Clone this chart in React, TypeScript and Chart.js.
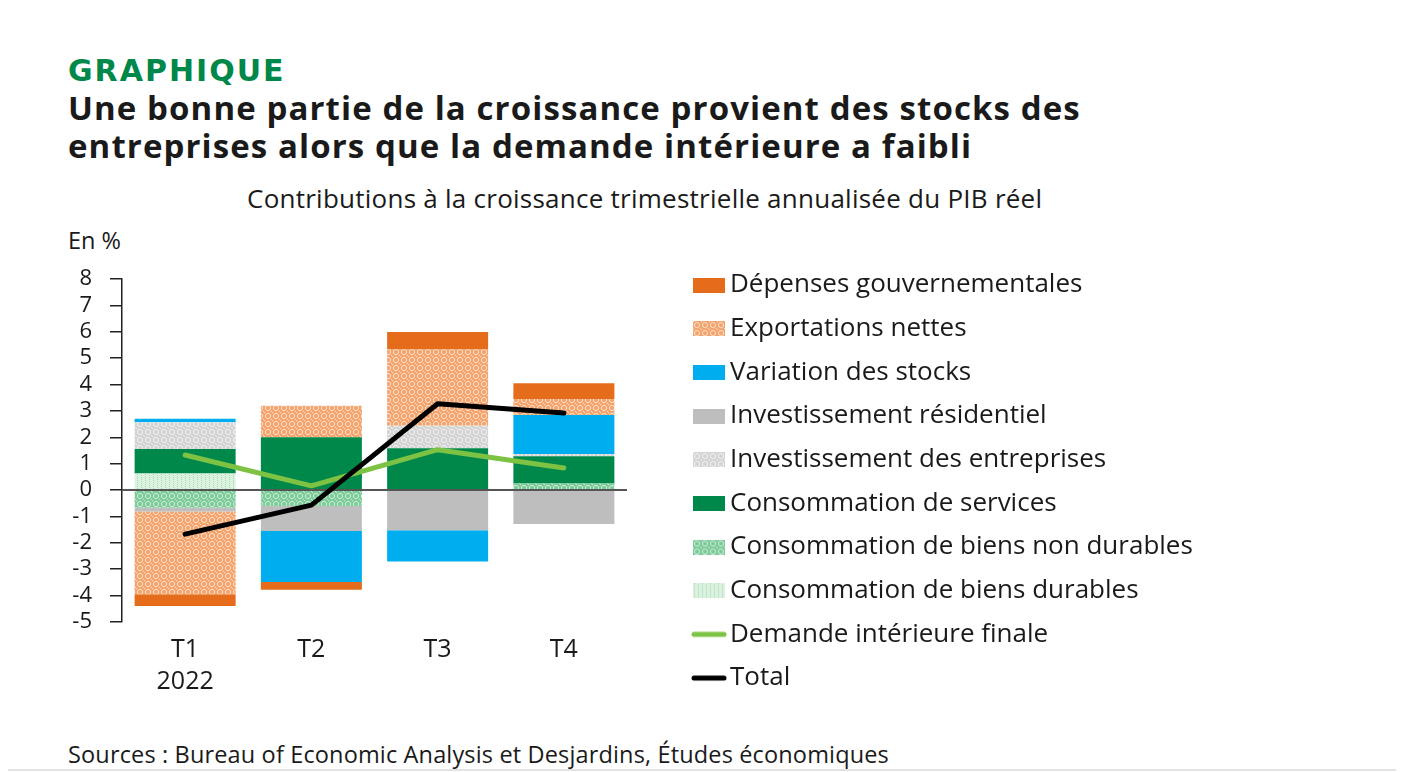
import React, { useEffect, useRef } from 'react';
import { Chart, registerables } from 'chart.js';

Chart.register(...registerables);

// ---------- data ----------
const categories: (string | string[])[] = [['T1', '2022'], 'T2', 'T3', 'T4'];
const durables = [0.63, 0, 0, 0];
const nonDurables = [-0.66, -0.6, 0, 0.25];
const services = [0.93, 2.0, 1.59, 1.03];
const businessInv = [1.01, 0, 0.85, 0.09];
const residential = [-0.15, -0.95, -1.52, -1.29];
const stocks = [0.13, -1.93, -1.19, 1.48];
const netExports = [-3.14, 1.2, 2.89, 0.6];
const government = [-0.44, -0.3, 0.66, 0.6];
const finalDemand = [1.33, 0.16, 1.53, 0.84];
const total = [-1.67, -0.57, 3.27, 2.92];
const yMin = -5;
const yMax = 8;

const legendOrder = [
  'Dépenses gouvernementales',
  'Exportations nettes',
  'Variation des stocks',
  'Investissement résidentiel',
  'Investissement des entreprises',
  'Consommation de services',
  'Consommation de biens non durables',
  'Consommation de biens durables',
  'Demande intérieure finale',
  'Total',
];

const FONT = "'Open Sans', sans-serif";
const TEXT = '#1a1a1a';

// ---------- patterns ----------
function makeTile(kind: string): HTMLCanvasElement {
  const c = document.createElement('canvas');
  c.width = 8;
  c.height = 8;
  const g = c.getContext('2d')!;
  if (kind === 'exports' || kind === 'business' || kind === 'nondur') {
    const base = kind === 'exports' ? '#F3A36C' : kind === 'business' ? '#D3D3D3' : '#7CCB99';
    const hi = kind === 'exports' ? '#FDE2CD' : kind === 'business' ? '#F4F4F4' : '#CDEDD8';
    g.fillStyle = base;
    g.fillRect(0, 0, 8, 8);
    g.strokeStyle = hi;
    g.lineWidth = 1;
    g.beginPath();
    g.arc(4, 4, 2.6, 0, Math.PI * 2);
    g.stroke();
    g.fillStyle = hi;
    g.fillRect(0, 0, 1, 1);
    g.fillRect(7, 7, 1, 1);
  } else {
    // durables: pale green with dotted vertical lines
    g.fillStyle = '#DCF2E1';
    g.fillRect(0, 0, 8, 8);
    g.fillStyle = '#A6DBB4';
    for (let y = 0; y < 8; y += 2) {
      g.fillRect(1, y, 1, 1);
      g.fillRect(5, y + 1, 1, 1);
    }
  }
  return c;
}

function makeSwatch(fill: string | HTMLCanvasElement): HTMLCanvasElement {
  const c = document.createElement('canvas');
  c.width = 32;
  c.height = 15;
  const g = c.getContext('2d')!;
  if (typeof fill === 'string') {
    g.fillStyle = fill;
  } else {
    g.fillStyle = g.createPattern(fill, 'repeat')!;
  }
  g.fillRect(0, 0, 32, 15);
  return c;
}

function makeLineSwatch(color: string): HTMLCanvasElement {
  const c = document.createElement('canvas');
  c.width = 36;
  c.height = 8;
  const g = c.getContext('2d')!;
  g.strokeStyle = color;
  g.lineWidth = 5;
  g.lineCap = 'round';
  g.beginPath();
  g.moveTo(3, 4);
  g.lineTo(33, 4);
  g.stroke();
  return c;
}

// ---------- layout constants ----------
const CANVAS_TOP = 220;
const CANVAS_W = 1404;
const CANVAS_H = 480;
const PLOT_LEFT = 122;
const PLOT_RIGHT = 627;
const PLOT_TOP = 59;
const XAXIS_H = 78;
const LEGEND_FONT = 26;
const LEGEND_PAD = 43.67 - LEGEND_FONT;
const LEGEND_ITEM_X = 701;
const LEGEND_FIRST_CENTER = 65;

function App() {
  const ref = useRef<HTMLCanvasElement>(null);

  useEffect(() => {
    const canvas = ref.current;
    if (!canvas) return;
    const ctx = canvas.getContext('2d')!;

    const tExports = makeTile('exports');
    const tBusiness = makeTile('business');
    const tNondur = makeTile('nondur');
    const tDur = makeTile('dur');
    const pat = (t: HTMLCanvasElement) => ctx.createPattern(t, 'repeat')!;

    const COL = {
      gov: '#E46C1B',
      stocks: '#00AEEF',
      resid: '#BEBEBE',
      services: '#00884A',
      dif: '#7DC243',
      total: '#000000',
    };

    const datasets: any[] = [
      { type: 'bar', label: 'Consommation de biens durables', data: durables, backgroundColor: pat(tDur), swatch: makeSwatch(tDur) },
      { type: 'bar', label: 'Consommation de biens non durables', data: nonDurables, backgroundColor: pat(tNondur), swatch: makeSwatch(tNondur) },
      { type: 'bar', label: 'Consommation de services', data: services, backgroundColor: COL.services, swatch: makeSwatch(COL.services) },
      { type: 'bar', label: 'Investissement des entreprises', data: businessInv, backgroundColor: pat(tBusiness), swatch: makeSwatch(tBusiness) },
      { type: 'bar', label: 'Investissement résidentiel', data: residential, backgroundColor: COL.resid, swatch: makeSwatch(COL.resid) },
      { type: 'bar', label: 'Variation des stocks', data: stocks, backgroundColor: COL.stocks, swatch: makeSwatch(COL.stocks) },
      { type: 'bar', label: 'Exportations nettes', data: netExports, backgroundColor: pat(tExports), swatch: makeSwatch(tExports) },
      { type: 'bar', label: 'Dépenses gouvernementales', data: government, backgroundColor: COL.gov, swatch: makeSwatch(COL.gov) },
      {
        type: 'line', label: 'Demande intérieure finale', data: finalDemand, borderColor: COL.dif, backgroundColor: COL.dif,
        borderWidth: 5, pointRadius: 0, tension: 0, stack: 'dif', order: -1, borderCapStyle: 'round', borderJoinStyle: 'round',
        swatch: makeLineSwatch(COL.dif),
      },
      {
        type: 'line', label: 'Total', data: total, borderColor: COL.total, backgroundColor: COL.total,
        borderWidth: 5, pointRadius: 0, tension: 0, stack: 'total', order: -2, borderCapStyle: 'round', borderJoinStyle: 'round',
        swatch: makeLineSwatch(COL.total),
      },
    ];
    datasets.forEach((d) => {
      if (d.type === 'bar') {
        d.borderWidth = 0;
        d.categoryPercentage = 0.8;
        d.barPercentage = 1.0;
      }
    });

    const legendPlacer = {
      id: 'legendPlacer',
      beforeLayout(chart: any) {
        const lg = chart.legend;
        if (lg && !lg._fixedFit) {
          const orig = lg.fit.bind(lg);
          lg.fit = function () {
            orig();
            this.width = CANVAS_W - PLOT_RIGHT;
          };
          lg._fixedFit = true;
        }
      },
      afterLayout(chart: any) {
        const lg = chart.legend;
        if (!lg) return;
        lg.left = LEGEND_ITEM_X - LEGEND_PAD;
        lg.right = CANVAS_W;
        lg.top = LEGEND_FIRST_CENTER - LEGEND_FONT / 2 - LEGEND_PAD;
        lg.bottom = 100000;
      },
    };

    const zeroLine = {
      id: 'zeroLine',
      afterDatasetDraw(chart: any, args: any) {
        if (args.index !== 0) return;
        const y = chart.scales.y.getPixelForValue(0);
        const { left, right } = chart.chartArea;
        const c = chart.ctx;
        c.save();
        c.strokeStyle = '#555555';
        c.lineWidth = 2;
        c.beginPath();
        c.moveTo(left, y);
        c.lineTo(right, y);
        c.stroke();
        c.restore();
      },
    };

    const chart = new Chart(ctx, {
      type: 'bar',
      data: { labels: categories as any, datasets },
      options: {
        responsive: false,
        animation: false,
        layout: { padding: { top: PLOT_TOP, left: 0, right: 0, bottom: 0 } },
        plugins: {
          title: { display: false },
          tooltip: { enabled: false },
          legend: {
            position: 'right',
            align: 'start',
            labels: {
              usePointStyle: true,
              pointStyleWidth: 16,
              padding: LEGEND_PAD,
              color: TEXT,
              font: { family: FONT, size: LEGEND_FONT },
              generateLabels: (ch: any) => {
                const items = ch.data.datasets.map((ds: any, i: number) => ({
                  text: ds.label,
                  pointStyle: ds.swatch,
                  fillStyle: 'rgba(0,0,0,0)',
                  strokeStyle: 'rgba(0,0,0,0)',
                  lineWidth: 0,
                  hidden: false,
                  datasetIndex: i,
                  fontColor: TEXT,
                }));
                items.sort((a: any, b: any) => legendOrder.indexOf(a.text) - legendOrder.indexOf(b.text));
                return items;
              },
            },
          },
        },
        scales: {
          x: {
            stacked: true,
            grid: { display: false, drawTicks: false },
            border: { display: false },
            ticks: {
              color: TEXT,
              padding: 12,
              font: { family: FONT, size: 25, lineHeight: 1.28 },
              maxRotation: 0,
              autoSkip: false,
            },
            afterFit: (s: any) => {
              s.height = XAXIS_H;
            },
          },
          y: {
            stacked: true,
            min: yMin,
            max: yMax,
            grid: { display: true, drawOnChartArea: false, drawTicks: true, tickLength: 12, color: '#222222', lineWidth: 1.5 },
            border: { display: true, color: '#222222', width: 1.5 },
            ticks: {
              stepSize: 1,
              autoSkip: false,
              color: TEXT,
              padding: 18,
              font: { family: FONT, size: 22 },
            },
            afterFit: (s: any) => {
              s.width = PLOT_LEFT;
            },
          },
        },
      } as any,
      plugins: [legendPlacer, zeroLine],
    });

    return () => chart.destroy();
  }, []);

  const txt = (top: number, left: number, size: number, extra: React.CSSProperties = {}): React.CSSProperties => ({
    position: 'absolute',
    top: top - 0.174 * size,
    left,
    fontFamily: FONT,
    fontSize: size,
    lineHeight: 1,
    color: TEXT,
    whiteSpace: 'nowrap',
    margin: 0,
    ...extra,
  });

  return (
    <div style={{ position: 'relative', width: CANVAS_W, height: 772, background: '#fff' }}>
      <div style={{ position: 'absolute', left: -8, top: -8, width: 1404, height: 772 }}>
        <div
          style={{
            position: 'absolute',
            top: 60 - 0.117 * 30,
            left: 68,
            fontFamily: "'DejaVu Sans', sans-serif",
            fontWeight: 700,
            fontSize: 30,
            lineHeight: 1,
            letterSpacing: 2,
            color: '#00874A',
            whiteSpace: 'nowrap',
          }}
        >
          GRAPHIQUE
        </div>
        <div style={txt(97, 68, 33, { fontWeight: 700, letterSpacing: 1.1 })}>Une bonne partie de la croissance provient des stocks des</div>
        <div style={txt(135, 68, 33, { fontWeight: 700, letterSpacing: 1.1 })}>entreprises alors que la demande intérieure a faibli</div>
        <div style={txt(190, 247, 26, { letterSpacing: 0.25 })}>Contributions à la croissance trimestrielle annualisée du PIB réel</div>
        <div style={txt(233.5, 68, 23.5)}>En %</div>
        <canvas
          ref={ref}
          width={CANVAS_W}
          height={CANVAS_H}
          style={{ position: 'absolute', left: 0, top: CANVAS_TOP, width: CANVAS_W, height: CANVAS_H }}
        />
        <div style={txt(747.5, 68, 23.5, { letterSpacing: 0.15 })}>Sources : Bureau of Economic Analysis et Desjardins, Études économiques</div>
        <div style={{ position: 'absolute', left: 0, top: 769, width: 1404, height: 2, background: '#e3e3e3' }} />
      </div>
    </div>
  );
}

export default App;
